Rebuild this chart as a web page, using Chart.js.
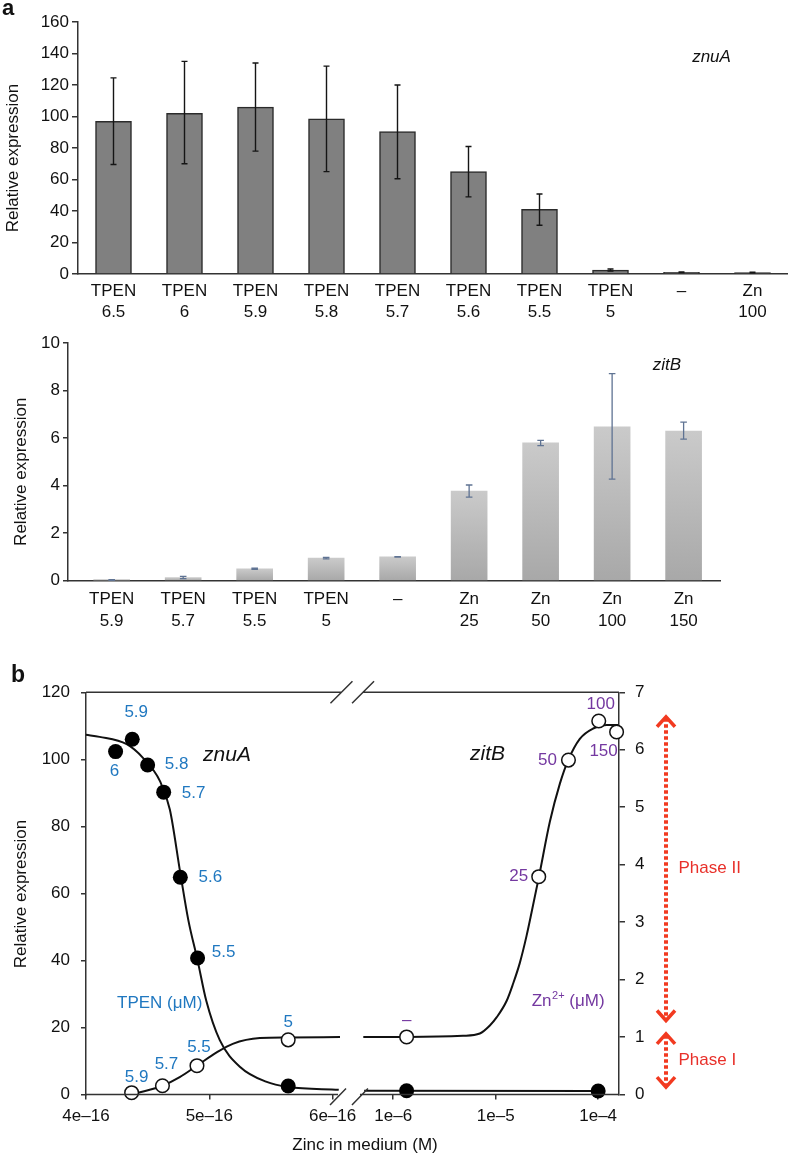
<!DOCTYPE html>
<html>
<head>
<meta charset="utf-8">
<script src="https://cdn.jsdelivr.net/npm/chart.js@4.4.1/dist/chart.umd.min.js"></script>
<style>
  html, body { margin: 0; padding: 0; background: #fff; overflow: hidden; }
  .panel { position: absolute; left: 0; width: 788px; }
</style>
</head>
<body>
<div class="panel" style="top:0;height:330px"><canvas id="znuaChart"></canvas></div>
<div class="panel" style="top:330px;height:330px"><canvas id="zitbChart"></canvas></div>
<div class="panel" style="top:660px;height:500px"><canvas id="curveChart"></canvas></div>
<script>
// ---------- panel a (top): znuA bars ----------
const znuaLabels = [['TPEN', '6.5'], ['TPEN', '6'], ['TPEN', '5.9'], ['TPEN', '5.8'], ['TPEN', '5.7'],
                    ['TPEN', '5.6'], ['TPEN', '5.5'], ['TPEN', '5'], ['–'], ['Zn', '100']];
const znuaValues  = [97, 102, 106, 98.5, 90.5, 65, 41, 2.5, 1.1, 0.9];
const znuaErrLow  = [69.5, 70, 78, 65, 60.5, 49, 31, 1.8, 0.9, 0.7];
const znuaErrHigh = [124.5, 135, 134, 132, 120, 81, 50.8, 3.2, 1.3, 1.1];

// ---------- panel a (bottom): zitB bars ----------
const zitbLabels = [['TPEN', '5.9'], ['TPEN', '5.7'], ['TPEN', '5.5'], ['TPEN', '5'], ['–'],
                    ['Zn', '25'], ['Zn', '50'], ['Zn', '100'], ['Zn', '150']];
const zitbValues  = [0.02, 0.13, 0.5, 0.95, 1.0, 3.77, 5.8, 6.48, 6.3];
const zitbErrLow  = [0.01, 0.09, 0.48, 0.92, 0.99, 3.52, 5.69, 4.28, 5.96];
const zitbErrHigh = [0.04, 0.18, 0.53, 0.98, 1.01, 4.03, 5.91, 8.72, 6.68];

// ---------- panel b: expression vs zinc in medium (M) ----------
const znuaConc = [4.24e-16, 4.375e-16, 4.5e-16, 4.63e-16, 4.765e-16, 4.905e-16, 5.64e-16, 1.35e-6, 1.0e-4];
const znuaExpr = [102.3, 106, 98.3, 90.2, 64.8, 40.7, 2.5, 1.1, 1.0];
const znuaPointText = ['6', '5.9', '5.8', '5.7', '5.6', '5.5', '', '', ''];

const zitbConc = [4.37e-16, 4.62e-16, 4.9e-16, 5.64e-16, 1.35e-6, 2.63e-5, 5.13e-5, 1.013e-4, 1.513e-4];
const zitbExpr = [0.03, 0.15, 0.5, 0.95, 1.0, 3.79, 5.82, 6.5, 6.31];
const zitbPointText = ['5.9', '5.7', '5.5', '5', '–', '25', '50', '100', '150'];

// fitted curves (null = axis break)
const znuaFitConc = [4.0e-16, 4.11e-16, 4.33e-16, 4.46e-16, 4.6e-16, 4.68e-16, 4.765e-16, 4.83e-16, 4.905e-16,
                     4.975e-16, 5.085e-16, 5.25e-16, 5.46e-16, 5.64e-16, 6.05e-16, null, 5.2e-7, 1.0e-4];
const znuaFitExpr = [107.3, 106.7, 104.5, 100.5, 93.5, 85, 66, 52, 40, 28, 16.2, 8.2, 3.8, 2.2, 1.4, null, 1.1, 1.0];
const zitbFitConc = [4.41e-16, 4.62e-16, 4.76e-16, 4.9e-16, 5.06e-16, 5.19e-16, 5.41e-16, 5.64e-16, 6.06e-16, null,
                     5.1e-7, 1.35e-6, 4.8e-6, 7.0e-6, 8.77e-6, 1.02e-5, 1.28e-5, 1.48e-5, 1.72e-5, 2.0e-5, 2.24e-5,
                     2.65e-5, 3.38e-5, 4.23e-5, 5.1e-5, 6.62e-5, 8.93e-5, 1.21e-4, 1.57e-4];
const zitbFitExpr = [0.02, 0.15, 0.3, 0.5, 0.73, 0.88, 0.98, 0.99, 1.0, null,
                     1.0, 1.0, 1.02, 1.06, 1.2, 1.34, 1.63, 1.93, 2.29, 2.76, 3.17,
                     3.8, 4.75, 5.41, 5.82, 6.19, 6.37, 6.43, 6.43];

const xTickConc   = [4e-16, 5e-16, 6e-16, 1e-6, 1e-5, 1e-4];
const xTickLabels = ['4e–16', '5e–16', '6e–16', '1e–6', '1e–5', '1e–4'];

// phase arrows, in right-axis units
const phaseNames = ['Phase II', 'Phase I'];
const phaseFrom  = [1.26, 0.1];
const phaseTo    = [6.6, 1.08];

// ---------- styling ----------
const FONT = '"Liberation Sans", Arial, Helvetica, sans-serif';
const INK = '#111';
const AXIS = '#333';
const BLUE = '#2078c0';
const PURPLE = '#7438a0';
const RED = '#f23a20';

Chart.defaults.font.family = FONT;
Chart.defaults.font.size = 17;
Chart.defaults.color = INK;

// broken x axis: linear part (one unit per 1e-16 M) then log part
const U_LEFT0 = 4e-16, U_LEFT_STEP = 1e-16, U_RIGHT0 = 2.492, U_DECADE = 0.831, U_MAX = 4.323;
function toU(c) {
    return c < 1e-12 ? (c - U_LEFT0) / U_LEFT_STEP : U_RIGHT0 + (Math.log10(c) + 6) * U_DECADE;
}
function toXY(concs, vals) {
    return concs.map((c, i) => c === null ? { x: 2.15, y: null } : { x: toU(c), y: vals[i] });
}

function drawText(ctx, n) {
    ctx.save();
    ctx.font = (n.style || '') + ' ' + (n.size || 17) + 'px ' + FONT;
    ctx.fillStyle = n.color || INK;
    ctx.textAlign = n.align || 'center';
    ctx.textBaseline = n.baseline || 'middle';
    ctx.translate(n.x, n.y);
    if (n.rotate) ctx.rotate(n.rotate);
    ctx.fillText(n.text, 0, 0);
    ctx.restore();
}

// free text (panel letters, titles, gene names); y given in page pixels
function makeNotes(notes, offsetY) {
    return {
        id: 'notes',
        afterDraw(chart) {
            notes.forEach(n => drawText(chart.ctx, Object.assign({}, n, { y: n.y - offsetY })));
        }
    };
}

function makeErrorBars(lo, hi, color, width, cap) {
    return {
        id: 'errorBars',
        afterDatasetsDraw(chart) {
            const { ctx } = chart;
            const y = chart.scales.y;
            const meta = chart.getDatasetMeta(0);
            ctx.save();
            ctx.strokeStyle = color;
            ctx.lineWidth = width;
            meta.data.forEach((bar, i) => {
                const top = y.getPixelForValue(hi[i]);
                const bot = y.getPixelForValue(lo[i]);
                ctx.beginPath();
                ctx.moveTo(bar.x, top); ctx.lineTo(bar.x, bot);
                ctx.moveTo(bar.x - cap, top); ctx.lineTo(bar.x + cap, top);
                ctx.moveTo(bar.x - cap, bot); ctx.lineTo(bar.x + cap, bot);
                ctx.stroke();
            });
            ctx.restore();
        }
    };
}

const yTitle = 'Relative expression';

// ---------- chart 1: znuA bars ----------
new Chart(document.getElementById('znuaChart'), {
    type: 'bar',
    data: {
        labels: znuaLabels,
        datasets: [{
            data: znuaValues,
            backgroundColor: '#808080',
            borderColor: '#2b2b2b',
            borderWidth: 1.5,
            barThickness: 36
        }]
    },
    options: {
        responsive: true,
        maintainAspectRatio: false,
        animation: false,
        layout: { padding: { top: 22, right: 0, left: 0, bottom: 0 } },
        plugins: { legend: { display: false }, tooltip: { enabled: false } },
        scales: {
            x: {
                grid: { display: false, drawTicks: false },
                border: { color: AXIS, width: 1.5 },
                ticks: { padding: 7, autoSkip: false, maxRotation: 0, font: { size: 17, lineHeight: 1.24 } },
                afterFit: s => { s.height = 56; }
            },
            y: {
                min: 0, max: 160,
                ticks: { stepSize: 20, padding: 3 },
                grid: { drawOnChartArea: false, tickLength: 6, color: AXIS, lineWidth: 1.5 },
                border: { color: AXIS, width: 1.5 },
                afterFit: s => { s.width = 78; }
            }
        }
    },
    plugins: [
        makeErrorBars(znuaErrLow, znuaErrHigh, '#151515', 1.4, 3),
        makeNotes([
            { text: 'a', x: 2, y: 15, style: 'bold', size: 22, align: 'left', baseline: 'alphabetic' },
            { text: 'znuA', x: 711.5, y: 57, style: 'italic' },
            { text: yTitle, x: 17.5, y: 158, rotate: -Math.PI / 2, baseline: 'alphabetic' }
        ], 0)
    ]
});

// ---------- chart 2: zitB bars ----------
function zitbFill(c) {
    const y = c.chart.scales.y;
    if (!y || !c.raw) return '#bbbbbb';
    const top = y.getPixelForValue(c.raw.y);
    const base = y.getPixelForValue(0);
    if (!Number.isFinite(top) || !Number.isFinite(base) || base - top < 0.5) return '#a9a9a9';
    const g = c.chart.ctx.createLinearGradient(0, top, 0, base);
    g.addColorStop(0, '#cacaca');
    g.addColorStop(1, '#a8a8a8');
    return g;
}

new Chart(document.getElementById('zitbChart'), {
    type: 'bar',
    data: {
        datasets: [{
            data: zitbValues.map((v, i) => ({ x: i, y: v })),
            backgroundColor: zitbFill,
            borderWidth: 0,
            barThickness: 36
        }]
    },
    options: {
        responsive: true,
        maintainAspectRatio: false,
        animation: false,
        layout: { padding: { top: 12.3, right: 68, left: 0, bottom: 0 } },
        plugins: { legend: { display: false }, tooltip: { enabled: false } },
        scales: {
            x: {
                type: 'linear',
                min: -0.611, max: 8.509,
                bounds: 'data',
                offset: false,
                afterBuildTicks: s => { s.ticks = zitbLabels.map((_, i) => ({ value: i })); },
                grid: { display: false, drawTicks: false, offset: false },
                border: { color: AXIS, width: 1.5 },
                ticks: {
                    padding: 7.5, autoSkip: false, maxRotation: 0,
                    font: { size: 17, lineHeight: 1.3 },
                    callback: (v, i) => zitbLabels[i]
                },
                afterFit: s => { s.height = 79.3; }
            },
            y: {
                min: 0, max: 10,
                ticks: { stepSize: 2, padding: 3 },
                grid: { drawOnChartArea: false, tickLength: 5, color: AXIS, lineWidth: 1.5 },
                border: { color: AXIS, width: 1.5 },
                afterFit: s => { s.width = 68; }
            }
        }
    },
    plugins: [
        makeErrorBars(zitbErrLow, zitbErrHigh, '#5f7393', 1.3, 3.3),
        makeNotes([
            { text: 'zitB', x: 667, y: 365, style: 'italic' },
            { text: yTitle, x: 25.5, y: 471.7, rotate: -Math.PI / 2, baseline: 'alphabetic' }
        ], 330)
    ]
});

// ---------- chart 3: broken axis, dual y ----------
const brokenFrame = {
    id: 'brokenFrame',
    afterDraw(chart) {
        const { ctx, chartArea: a } = chart;
        const x = chart.scales.x;
        ctx.save();
        ctx.strokeStyle = AXIS;
        ctx.lineWidth = 1.5;
        // top frame line with break
        let gl = x.getPixelForValue(2.072), gr = x.getPixelForValue(2.247);
        ctx.beginPath();
        ctx.moveTo(a.left, a.top); ctx.lineTo(gl, a.top);
        ctx.moveTo(gr, a.top); ctx.lineTo(a.right, a.top);
        ctx.moveTo(gl - 11, a.top + 11); ctx.lineTo(gl + 11, a.top - 11);
        ctx.moveTo(gr - 11, a.top + 11); ctx.lineTo(gr + 11, a.top - 11);
        ctx.stroke();
        // bottom axis line with break
        gl = x.getPixelForValue(2.044); gr = x.getPixelForValue(2.222);
        const yb = a.bottom;
        ctx.beginPath();
        ctx.moveTo(a.left, yb); ctx.lineTo(gl, yb);
        ctx.moveTo(gr, yb); ctx.lineTo(a.right, yb);
        ctx.moveTo(gl - 8, yb + 10.5); ctx.lineTo(gl + 8, yb - 6);
        ctx.moveTo(gr - 8, yb + 10.5); ctx.lineTo(gr + 8, yb - 6);
        ctx.stroke();
        ctx.restore();
    }
};

const phaseArrows = {
    id: 'phaseArrows',
    afterDraw(chart) {
        const { ctx, chartArea: a } = chart;
        const y1 = chart.scales.y1;
        const x = a.right + 47;
        ctx.save();
        phaseNames.forEach((name, i) => {
            const top = y1.getPixelForValue(phaseTo[i]);
            const bot = y1.getPixelForValue(phaseFrom[i]);
            ctx.strokeStyle = RED;
            ctx.lineWidth = 4;
            ctx.setLineDash([3.5, 2.5]);
            ctx.beginPath();
            ctx.moveTo(x, top + 3); ctx.lineTo(x, bot - 3);
            ctx.stroke();
            ctx.setLineDash([]);
            ctx.lineWidth = 3.5;
            ctx.lineJoin = 'miter';
            ctx.beginPath();
            ctx.moveTo(x - 9, top + 11.5); ctx.lineTo(x, top + 1.5); ctx.lineTo(x + 9, top + 11.5);
            ctx.moveTo(x - 9, bot - 11.5); ctx.lineTo(x, bot - 1.5); ctx.lineTo(x + 9, bot - 11.5);
            ctx.stroke();
            drawText(ctx, { text: name, x: x + 12.5, y: (top + bot) / 2, align: 'left', color: '#e8302a' });
        });
        ctx.restore();
    }
};

function makePointLabels(datasetIndex, texts, offsets, colors) {
    return {
        id: 'pointLabels' + datasetIndex,
        afterDatasetsDraw(chart) {
            const meta = chart.getDatasetMeta(datasetIndex);
            meta.data.forEach((pt, i) => {
                if (!texts[i]) return;
                drawText(chart.ctx, { text: texts[i], x: pt.x + offsets[i][0], y: pt.y + offsets[i][1], color: colors[i] });
            });
        }
    };
}

const znuaLabelOffsets = [[-1, 20], [4, -27], [29, -1], [30, 1], [30, 0], [26, -6], [0, 0], [0, 0], [0, 0]];
const zitbLabelOffsets = [[5, -15], [4, -21], [2, -18], [0, -18], [0, -17], [-20, 0], [-21, 0], [2, -17], [-13, 19]];
const znuaLabelColors = znuaPointText.map(() => BLUE);
const zitbLabelColors = [BLUE, BLUE, BLUE, BLUE, PURPLE, PURPLE, PURPLE, PURPLE, PURPLE];

const zincIonLabel = {
    id: 'zincIonLabel',
    afterDraw(chart) {
        const ctx = chart.ctx;
        const x0 = 531.7, y = 1005.5 - 660;
        ctx.save();
        ctx.fillStyle = PURPLE;
        ctx.textBaseline = 'alphabetic';
        ctx.textAlign = 'left';
        ctx.font = '17px ' + FONT;
        ctx.fillText('Zn', x0, y);
        let x = x0 + ctx.measureText('Zn').width;
        ctx.font = '11px ' + FONT;
        ctx.fillText('2+', x + 0.5, y - 6.5);
        x += ctx.measureText('2+').width + 0.5;
        ctx.font = '17px ' + FONT;
        ctx.fillText(' (μM)', x, y);
        ctx.restore();
    }
};

new Chart(document.getElementById('curveChart'), {
    type: 'line',
    data: {
        datasets: [
            {
                label: 'znuA',
                data: toXY(znuaConc, znuaExpr),
                yAxisID: 'y',
                showLine: false,
                pointRadius: 7.5,
                pointBackgroundColor: '#000',
                pointBorderWidth: 0,
                clip: false
            },
            {
                label: 'zitB',
                data: toXY(zitbConc, zitbExpr),
                yAxisID: 'y1',
                showLine: false,
                pointRadius: 6.8,
                pointBackgroundColor: '#fff',
                pointBorderColor: INK,
                pointBorderWidth: 1.5,
                clip: false
            },
            {
                label: 'znuA fit',
                data: toXY(znuaFitConc, znuaFitExpr),
                yAxisID: 'y',
                borderColor: INK,
                borderWidth: 2,
                pointRadius: 0,
                cubicInterpolationMode: 'monotone',
                spanGaps: false,
                clip: false
            },
            {
                label: 'zitB fit',
                data: toXY(zitbFitConc, zitbFitExpr),
                yAxisID: 'y1',
                borderColor: INK,
                borderWidth: 2,
                pointRadius: 0,
                cubicInterpolationMode: 'monotone',
                spanGaps: false,
                clip: false
            }
        ]
    },
    options: {
        responsive: true,
        maintainAspectRatio: false,
        animation: false,
        layout: { padding: { top: 32.3, right: 0, left: 0, bottom: 0 } },
        plugins: { legend: { display: false }, tooltip: { enabled: false } },
        scales: {
            x: {
                type: 'linear',
                min: 0, max: U_MAX,
                bounds: 'data',
                afterBuildTicks: s => { s.ticks = xTickConc.map(c => ({ value: toU(c) })); },
                ticks: { padding: 7, autoSkip: false, maxRotation: 0, callback: (v, i) => xTickLabels[i] },
                grid: { drawOnChartArea: false, tickLength: 5, color: AXIS, lineWidth: 1.5 },
                border: { display: false },
                afterFit: s => { s.height = 65.6; }
            },
            y: {
                position: 'left',
                min: 0, max: 120,
                ticks: { stepSize: 20, padding: 11 },
                grid: { drawOnChartArea: false, tickLength: 5, color: AXIS, lineWidth: 1.5 },
                border: { color: AXIS, width: 1.5 },
                afterFit: s => { s.width = 86; }
            },
            y1: {
                position: 'right',
                min: 0, max: 7,
                ticks: { stepSize: 1, padding: 10 },
                grid: { drawOnChartArea: false, tickLength: 6, color: AXIS, lineWidth: 1.5 },
                border: { color: AXIS, width: 1.5 },
                afterFit: s => { s.width = 169; }
            }
        }
    },
    plugins: [
        brokenFrame,
        phaseArrows,
        zincIonLabel,
        makePointLabels(0, znuaPointText, znuaLabelOffsets, znuaLabelColors),
        makePointLabels(1, zitbPointText, zitbLabelOffsets, zitbLabelColors),
        makeNotes([
            { text: 'b', x: 11, y: 681.7, style: 'bold', size: 23, align: 'left', baseline: 'alphabetic' },
            { text: 'znuA', x: 227, y: 755, style: 'italic', size: 21 },
            { text: 'zitB', x: 487.5, y: 754, style: 'italic', size: 21 },
            { text: 'TPEN (μM)', x: 159.7, y: 1003.3, color: BLUE },
            { text: yTitle, x: 25.5, y: 894, rotate: -Math.PI / 2, baseline: 'alphabetic' },
            { text: 'Zinc in medium (M)', x: 365, y: 1145 }
        ], 660)
    ]
});
</script>
</body>
</html>
